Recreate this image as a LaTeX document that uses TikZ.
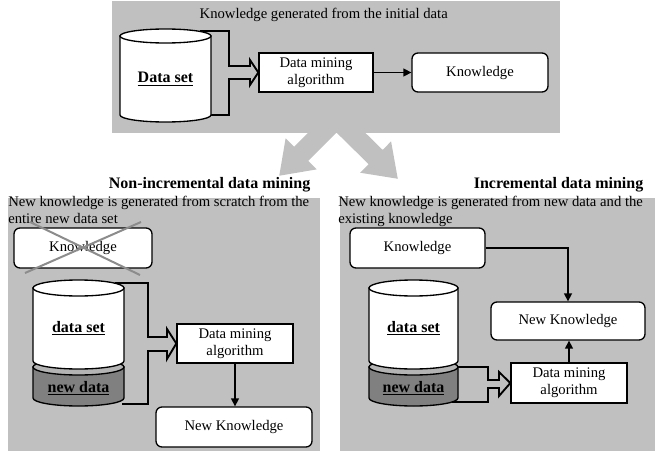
\documentclass[tikz,border=0pt]{standalone}
\usepackage{fontspec}
\setmainfont{Liberation Serif}
\usetikzlibrary{arrows.meta}

\definecolor{panelgray}{HTML}{C0C0C0}
\definecolor{newgray}{HTML}{808080}
\definecolor{topgray}{HTML}{B4B4B4}
\definecolor{crossgray}{HTML}{8C8C8C}

\begin{document}
\begin{tikzpicture}[
x=0.75pt, y=-0.75pt,
font=\fontsize{11}{12.75}\selectfont,
   panel/.style = {fill=panelgray, draw=none},% grey backgrounds
     box/.style = {rectangle, draw, fill=white, line width=1pt,
                   align=center, inner sep=1pt},
    rbox/.style = {box, rounded corners=4.5pt},
  hollow/.style = {draw, line width=1.4pt, line join=miter},% open bracket arrows
    link/.style = {draw, line width=1.1pt, -{Triangle[length=6pt,width=6pt]}},
     cyl/.style = {draw, line width=1pt},
   title/.style = {font=\fontsize{12}{14}\selectfont\bfseries},
    data/.style = {font=\fontsize{12}{14}\selectfont\bfseries},
    desc/.style = {anchor=north west, align=left, inner sep=0pt},
                        ]
\useasboundingbox (0,0) rectangle (659,453);
% big arrows towards the two cases
\begin{scope}[shift={(333,122)}, rotate=-135]
\fill[panelgray] (0,-10) -- (45,-10) -- (45,-22) -- (76,0) -- (45,22) -- (45,10) -- (0,10) -- cycle;
\end{scope}
\begin{scope}[shift={(340,122)}, rotate=-44.5]
\fill[panelgray] (0,-10) -- (50,-10) -- (50,-22) -- (81,0) -- (50,22) -- (50,10) -- (0,10) -- cycle;
\end{scope}
% initial data
\fill[panel] (112,1) rectangle (560,133);
\node[anchor=west] (cap1) at (195,15) {Knowledge generated from the initial data};
\node[box, minimum width=85.5pt, minimum height=29.25pt] (alg1) at (316,72.5) {Data mining\\algorithm};
\node[rbox, minimum width=102pt, minimum height=29.25pt] (kn1) at (480,72.5) {Knowledge};
\draw[link] (alg1) -- (kn1);
\coordinate (db1t) at (200,31);
\coordinate (db1b) at (200,115);
\draw[hollow] (db1t) -- (229,31) -- (229,66) -- (250,66) -- (250,60) -- (alg1.west)
              -- (250,85) -- (250,79) -- (229,79) -- (229,115) -- (db1b);
\filldraw[cyl, fill=white] (120,36) -- (120,115) arc[start angle=180, end angle=0, x radius=45.5, y radius=7] -- (211,36) -- cycle;
\filldraw[cyl, fill=white] (165.5,36) ellipse[x radius=45.5, y radius=7];
\node[data] (ds1) at (165.5,79) {\underline{Data set}};
% the two cases
\fill[panel] (8,198) rectangle (320,451);
\fill[panel] (340,198) rectangle (655,451);
\node[title, anchor=east] (t2) at (315,185) {Non-incremental data mining};
\node[title, anchor=east] (t3) at (648,185) {Incremental data mining};
\node[desc] (d2) at (8,196) {New knowledge is generated from scratch from the\\entire new data set};
\node[desc] (d3) at (338,196) {New knowledge is generated from new data and the\\existing knowledge};
% non-incremental
\node[rbox, minimum width=103.5pt, minimum height=30pt] (kn2) at (83,248) {Knowledge};
\draw[crossgray, line width=1.5pt] (30,222) -- (140,275) (25,273) -- (141,222);
\node[box, minimum width=87pt, minimum height=29.25pt] (alg2) at (235,343.5) {Data mining\\algorithm};
\node[rbox, minimum width=117pt, minimum height=30pt] (nk2) at (234,427) {New Knowledge};
\draw[link] (alg2.south) -- (alg2.south |- nk2.north);
\coordinate (db2t) at (115,283);
\coordinate (db2b) at (122,404);
\draw[hollow] (db2t) -- (148,283) -- (148,337) -- (167,337) -- (167,329) -- (alg2.west)
              -- (167,359) -- (167,351) -- (148,351) -- (148,404) -- (db2b);
% incremental
\node[rbox, minimum width=101.25pt, minimum height=30pt] (kn3) at (417.5,248) {Knowledge};
\node[rbox, minimum width=115.5pt, minimum height=28.5pt] (nk3) at (568,321) {New Knowledge};
\node[box, minimum width=87pt, minimum height=30pt] (alg3) at (569,383) {Data mining\\algorithm};
\draw[link] (kn3.east) -| (nk3.north);
\draw[link] (alg3.north) -- (alg3.north |- nk3.south);
\coordinate (db3t) at (450,367);
\coordinate (db3b) at (452,402);
\draw[hollow] (db3t) -- (488,367) -- (488,380) -- (499,380) -- (499,372) -- (alg3.west)
              -- (499,396) -- (499,388) -- (488,388) -- (488,402) -- (db3b);
% data set on top of new data
\foreach \cx/\a/\n in {78.5/45.5/2, 413.5/44.5/3}
{
\filldraw[cyl, fill=newgray] (\cx-\a,367) -- (\cx-\a,398) arc[start angle=180, end angle=0, x radius=\a, y radius=8] -- (\cx+\a,367) -- cycle;
\filldraw[cyl, fill=topgray] (\cx,367) ellipse[x radius=\a, y radius=8];
\filldraw[cyl, fill=white] (\cx-\a,288) -- (\cx-\a,361) arc[start angle=180, end angle=0, x radius=\a, y radius=8] -- (\cx+\a,288) -- cycle;
\filldraw[cyl, fill=white] (\cx,288) ellipse[x radius=\a, y radius=8];
\node[data] (ds\n) at (\cx,328) {\underline{data set}};
\node[data] (nd\n) at (\cx,388) {\underline{new data}};
}
\end{tikzpicture}
\end{document}
